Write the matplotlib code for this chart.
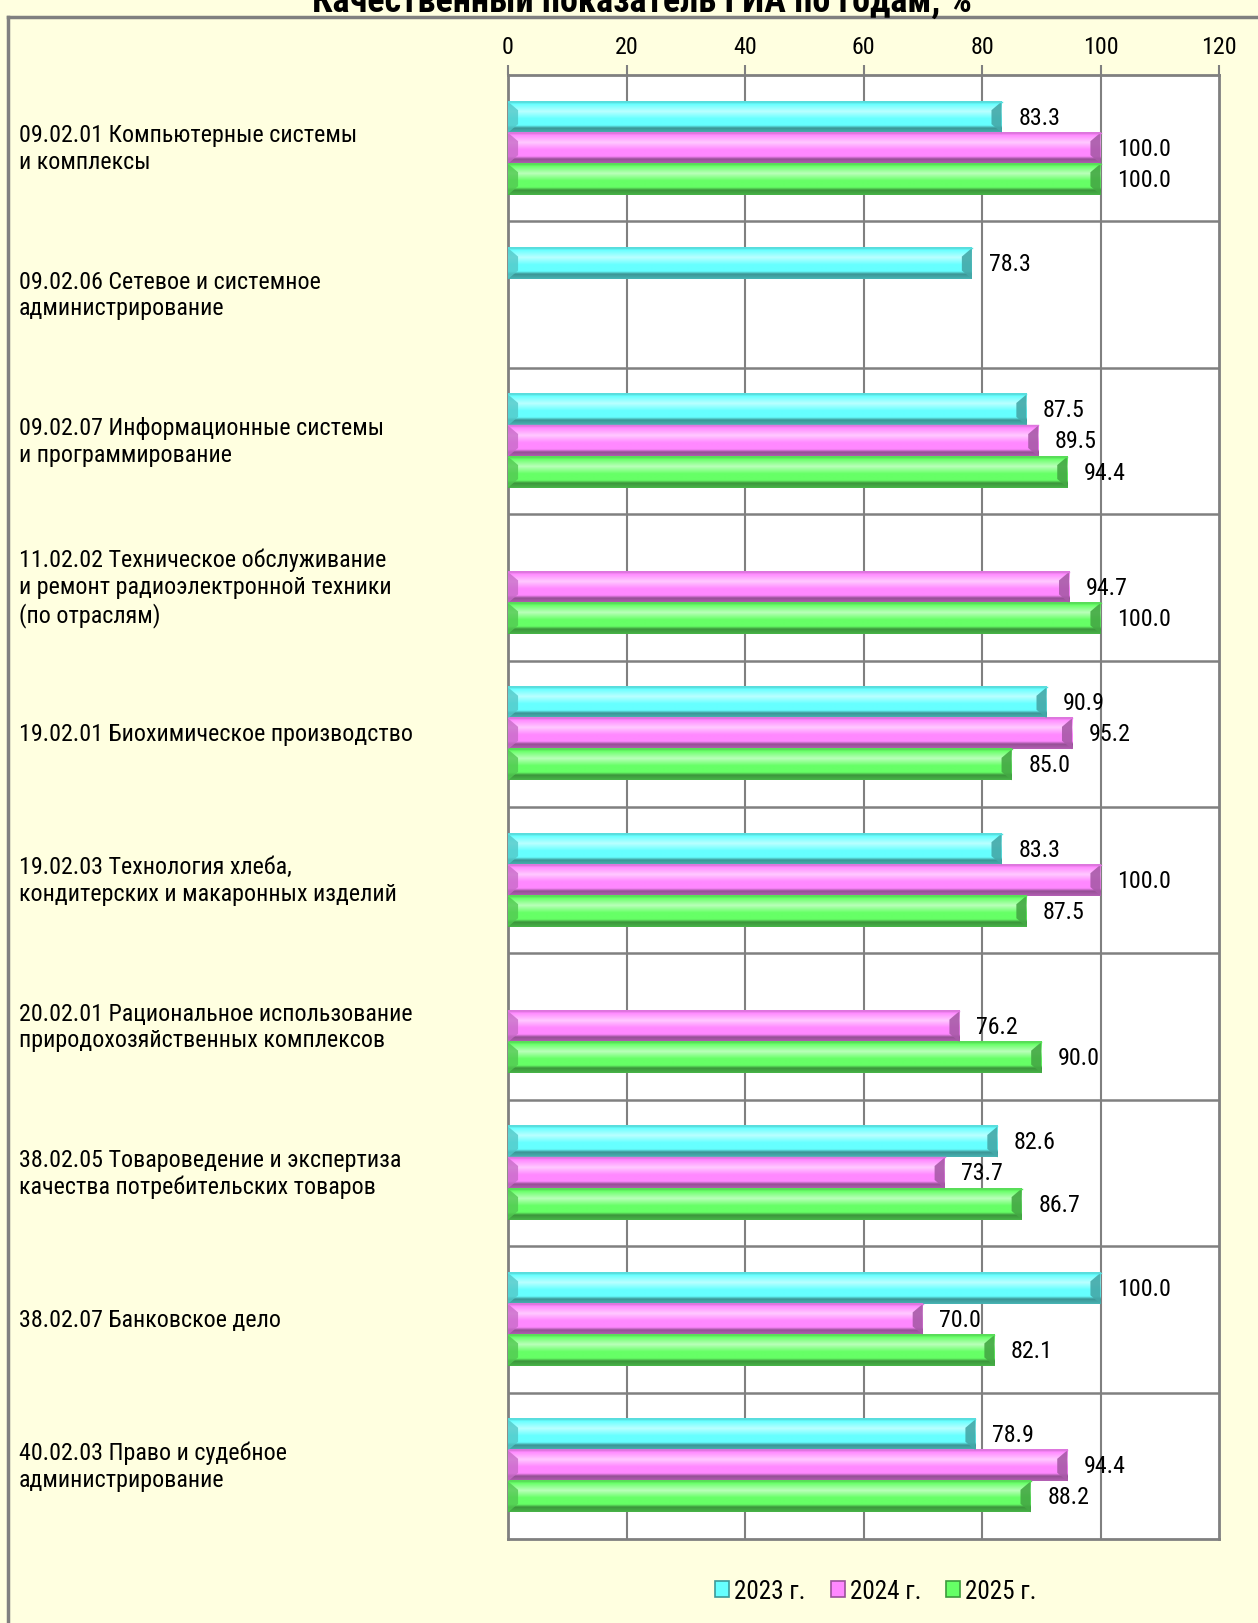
import numpy as np
import matplotlib
matplotlib.use("Agg")
import matplotlib.pyplot as plt
from matplotlib import font_manager as fm
from matplotlib.patches import Polygon, Patch
from matplotlib.lines import Line2D
from matplotlib.colors import to_rgb

# узкий шрифт, похожий на Arial Narrow (берём первый установленный)
have = {f.name for f in fm.fontManager.ttflist}
cands = ['Liberation Sans Narrow', 'Arial Narrow', 'Roboto Condensed', 'PT Sans Narrow',
         'Fira Sans Condensed', 'Open Sans Condensed', 'Liberation Sans']
font = next((c for c in cands if c in have), 'DejaVu Sans')
plt.rcParams['font.family'] = [font, 'DejaVu Sans']

# данные
categories = [
    "09.02.01 Компьютерные системы\nи комплексы",
    "09.02.06 Сетевое и системное\nадминистрирование",
    "09.02.07 Информационные системы\nи программирование",
    "11.02.02 Техническое обслуживание\nи ремонт радиоэлектронной техники\n(по отраслям)",
    "19.02.01 Биохимическое производство",
    "19.02.03 Технология хлеба,\nкондитерских и макаронных изделий",
    "20.02.01 Рациональное использование\nприродохозяйственных комплексов",
    "38.02.05 Товароведение и экспертиза\nкачества потребительских товаров",
    "38.02.07 Банковское дело",
    "40.02.03 Право и судебное\nадминистрирование",
]
years = ["2023 г.", "2024 г.", "2025 г."]
v2023 = [83.3, 78.3, 87.5, None, 90.9, 83.3, None, 82.6, 100.0, 78.9]
v2024 = [100.0, None, 89.5, 94.7, 95.2, 100.0, 76.2, 73.7, 70.0, 94.4]
v2025 = [100.0, None, 94.4, 100.0, 85.0, 87.5, 90.0, 86.7, 82.1, 88.2]
xticks = [0, 20, 40, 60, 80, 100, 120]
title = "Качественный показатель ГИА по годам, %"

series = [v2023, v2024, v2025]
colors = ["#66FFFF", "#FF88FF", "#66FF66"]
bg = "#FFFFE0"
grid_c = "#808080"

W, H = 1258, 1624
fig = plt.figure(figsize=(W / 100, H / 100), dpi=100, facecolor=bg)
renderer = fig.canvas.get_renderer()


def fit_size(s, target_px, weight='normal', lo=14, hi=26):
    t = fig.text(0, 0, s, fontsize=20, fontweight=weight)
    w = t.get_window_extent(renderer).width
    t.remove()
    return float(np.clip(20 * target_px / w, lo, hi))


# подбираем кегль по ширине строки в оригинале
fs = fit_size("09.02.01 Компьютерные системы", 337)
fs_title = fit_size(title, 665, weight='bold')

ax = fig.add_axes([508 / W, 1 - 1540 / H, (1219 - 508) / W, (1540 - 76) / H])
ax.set_facecolor("white")

n = len(categories)
bar_h = 0.212
offsets = [-bar_h, 0, bar_h]


def mix(a, b, t):
    return tuple(a[i] * (1 - t) + b[i] * t for i in range(3))


def draw_bar(y, v, col):
    base = to_rgb(col)
    light = mix(base, (1, 1, 1), 0.55)
    dark = mix(base, (0, 0, 0), 0.42)
    stops = [(0.0, mix(base, dark, 0.35)), (0.08, base), (0.32, light),
             (0.55, base), (0.76, base), (0.85, dark), (1.0, mix(dark, base, 0.3))]
    t = np.linspace(0, 1, 60)
    grad = np.zeros((60, 1, 3))
    for c in range(3):
        grad[:, 0, c] = np.interp(t, [s[0] for s in stops], [s[1][c] for s in stops])
    top, bot = y - bar_h / 2, y + bar_h / 2
    ax.imshow(grad, extent=[0, v, bot, top], aspect='auto',
              interpolation='bilinear', zorder=3)
    # скосы по краям
    bw = 1.7
    hh = bar_h * 0.5
    ax.add_patch(Polygon([[0, top], [bw, y - hh * 0.45], [bw, y + hh * 0.45], [0, bot]],
                         closed=True, fc=mix(base, dark, 0.5), ec='none', alpha=0.8, zorder=4))
    ax.add_patch(Polygon([[v, top], [v - bw, y - hh * 0.45], [v - bw, y + hh * 0.45], [v, bot]],
                         closed=True, fc=mix(base, dark, 0.8), ec='none', alpha=0.9, zorder=4))
    ax.plot([0, v], [top, top], color=mix(base, dark, 0.3), lw=1, zorder=4)
    ax.annotate(f"{v:.1f}", (v, y), xytext=(12, 0), textcoords='offset points',
                ha='left', va='center', fontsize=fs, color='black', zorder=6)


for i in range(n):
    for k, vals in enumerate(series):
        if vals[i] is not None:
            draw_bar(i + offsets[k], vals[i], colors[k])

ax.set_xlim(0, 120)
ax.set_ylim(n - 0.5, -0.5)

# сетка
for x in xticks[1:-1]:
    ax.axvline(x, color=grid_c, lw=1.5, zorder=1)
for j in range(1, n):
    ax.axhline(j - 0.5, color=grid_c, lw=1.8, zorder=1)
for s in ax.spines.values():
    s.set_color(grid_c)
    s.set_linewidth(2)

ax.xaxis.tick_top()
ax.set_xticks(xticks)
ax.set_xticklabels([str(x) for x in xticks])
ax.tick_params(axis='x', length=7, width=1.5, color=grid_c, pad=5, labelsize=fs)

ax.set_yticks(range(n))
ax.set_yticklabels(categories, fontsize=fs, ha='left', va='center')
ax.tick_params(axis='y', length=0, pad=(508 - 19) * 0.72)

# рамка области диаграммы
fig.add_artist(Line2D([8 / W, 1], [1 - 18 / H, 1 - 18 / H], color=grid_c, lw=2.5))
fig.add_artist(Line2D([8 / W, 8 / W], [0, 1 - 18 / H], color=grid_c, lw=2.5))

# заголовок (в оригинале обрезан сверху)
fig.text(642 / W, 1 - 12 / H, title,
         ha='center', va='baseline', fontsize=fs_title, fontweight='bold')

handles = [Patch(fc=c, ec=mix(to_rgb(c), (0, 0, 0), 0.4), lw=1.2) for c in colors]
fig.legend(handles, years, loc='center', bbox_to_anchor=(876 / W, 1 - 1592 / H),
           ncol=3, frameon=False, fontsize=fs * 1.05, handlelength=0.55, handleheight=0.55,
           handletextpad=0.2, columnspacing=1.0)

fig.savefig("out.png", dpi=100, facecolor=bg)
